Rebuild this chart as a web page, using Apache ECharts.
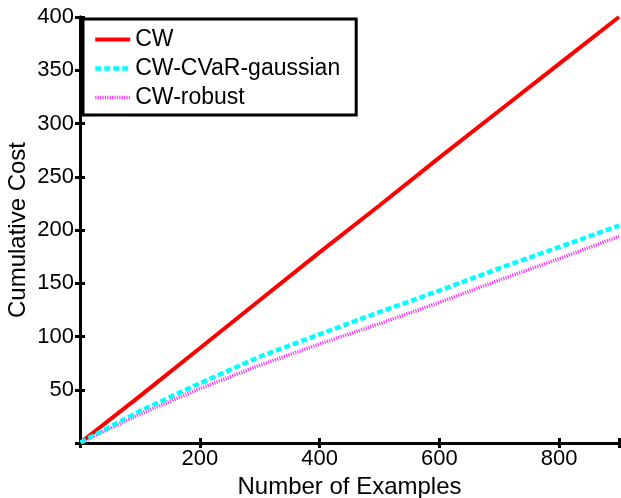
<!DOCTYPE html>
<html>
<head>
<meta charset="utf-8">
<script src="https://cdn.jsdelivr.net/npm/echarts@6/dist/echarts.min.js"></script>
<style>html,body{margin:0;padding:0;background:#fff}#c{width:621px;height:498px}</style>
</head>
<body>
<div id="c"></div>
<script>
const examples = [1, 100, 200, 300, 400, 500, 600, 700, 800, 900];
const cw = [0.5, 44, 89, 134, 179, 223, 268, 312, 356, 400];
const cvarGaussian = [0.5, 30, 56, 81, 102, 123, 143, 164, 184, 204];
const robust = [0.5, 27, 51, 73, 93, 112, 132, 153, 173, 194];
const seriesNames = ['CW', 'CW-CVaR-gaussian', 'CW-robust'];
const xTicks = [200, 400, 600, 800];
const yTicks = [50, 100, 150, 200, 250, 300, 350, 400];

const font = 'Liberation Sans, Arial, Helvetica, sans-serif';
const pair = (xs, ys) => xs.map((x, i) => [x, ys[i]]);

const styles = [
  {color: '#ff0000', width: 4, type: 'solid'},
  {color: '#00ffff', width: 4.5, type: [6, 3]},
  {color: '#ff33ff', width: 3.5, type: [1.2, 1.2]}
];

const chart = echarts.init(document.getElementById('c'), null, {renderer: 'canvas'});
const axisCommon = {
  axisLine: {show: true, lineStyle: {color: '#000', width: 3}},
  axisTick: {show: true, inside: true, length: 5, lineStyle: {color: '#000', width: 3}},
  splitLine: {show: false}
};
chart.setOption({
  animation: false,
  backgroundColor: '#fff',
  grid: {left: 80, right: 2, top: 17, bottom: 55, containLabel: false, outerBoundsMode: 'none'},
  xAxis: [
    Object.assign({
      type: 'value', min: 0, max: 900, interval: 200, position: 'bottom',
      name: 'Number of Examples', nameLocation: 'middle', nameGap: 27,
      nameTextStyle: {fontFamily: font, fontSize: 24, color: '#000'},
      axisLabel: {fontFamily: font, fontSize: 22, color: '#000', margin: 5,
        formatter: v => xTicks.includes(v) ? String(v) : ''}
    }, axisCommon),
    Object.assign({
      type: 'value', min: 0, max: 900, interval: 200, position: 'top',
      axisLabel: {show: false}
    }, axisCommon)
  ],
  yAxis: [
    Object.assign({
      type: 'value', min: 0, max: 400, interval: 50, position: 'left',
      name: 'Cumulative Cost', nameLocation: 'middle', nameGap: 50, nameMoveOverlap: false,
      nameTextStyle: {fontFamily: font, fontSize: 24, color: '#000'},
      axisLabel: {fontFamily: font, fontSize: 22, color: '#000', margin: 6,
        formatter: v => yTicks.includes(v) ? String(v) : ''}
    }, axisCommon),
    Object.assign({
      type: 'value', min: 0, max: 400, interval: 50, position: 'right',
      axisLabel: {show: false}
    }, axisCommon)
  ],
  legend: {
    orient: 'vertical', left: 83, top: 19,
    padding: [9, 16, 6, 10], itemGap: 6, itemWidth: 35, itemHeight: 14,
    borderColor: '#000', borderWidth: 3, backgroundColor: '#fff',
    textStyle: {fontFamily: font, fontSize: 23, color: '#000'},
    data: seriesNames.map((n, i) => ({
      name: n,
      itemStyle: {opacity: 0},
      lineStyle: Object.assign({}, styles[i])
    }))
  },
  series: seriesNames.map((n, i) => ({
    name: n, type: 'line', symbol: 'none', showSymbol: false,
    data: pair(examples, [cw, cvarGaussian, robust][i]),
    color: styles[i].color,
    lineStyle: Object.assign({}, styles[i]),
    z: i === 2 ? 2 : 3
  }))
});
</script>
</body>
</html>
